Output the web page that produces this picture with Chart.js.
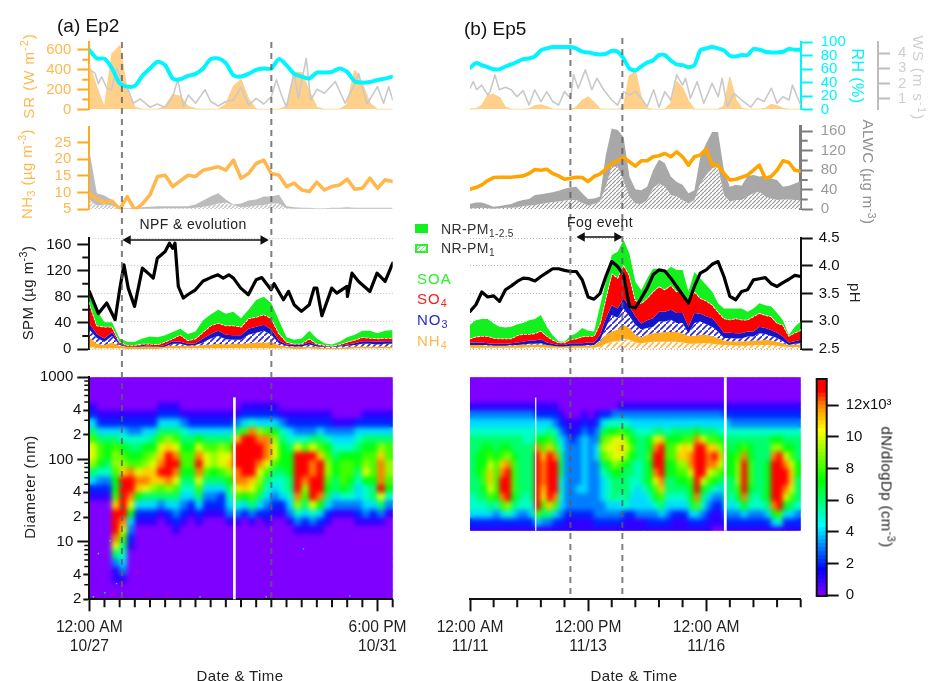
<!DOCTYPE html>
<html>
<head>
<meta charset="utf-8">
<title>Ep2 and Ep5</title>
<script src="https://cdn.jsdelivr.net/npm/chart.js@4"></script>
<style>
html, body { margin: 0; padding: 0; background: #fff; width: 932px; height: 681px; overflow: hidden; }
body { position: relative; font-family: "Liberation Sans", Arial, sans-serif; color: #222; }
canvas { position: absolute; left: 0; top: 0; }
.lab { position: absolute; white-space: nowrap; font-size: 15px; letter-spacing: .4px; line-height: 1; z-index: 5; }
.lab sup { font-size: .72em; vertical-align: .55em; line-height: 0; }
.lab sub { font-size: .72em; vertical-align: -.3em; line-height: 0; }
</style>
</head>
<body>
<script>
// hours since the start of each episode
const tA = [0,3,6,9,12,15,18,21,24,27,30,33,36,39,42,45,48,51,54,57,60,63,66,69,72,75,78,81,84,87,90,93,96,99,102,105,108,111,114,117,120]
const tB = [0,3,6,9,12,15,18,21,24,27,30,33,36,39,42,45,48,51,54,57,60,63,66,69,72,75,78,81,84,87,90,93,96,99,102,105,108,111,114,117,120,123,126,129,132,135,138,141,144,147,150,153,156,159,162,165,168]

// top strip
const srA = [450,220,10,560,640,190,20,0,0,0,30,150,130,30,5,0,0,0,50,230,300,100,0,0,0,0,30,370,370,180,20,0,0,0,50,390,260,60,0,0,0]
const rhA = [88.6,76,75.6,61,39,34,35,50,61,71,66,46,45,50,53,61,75,76,69,51,49,53,59,61,61,75,66,53,49,46,55,55,56,61,56,42,40,41,44,46,49]
const wsHoursA = [0,2.2,3.6,4.9,6.9,8.8,10.8,12.8,15.4,17.4,20.1,24,26.9,30,33,35,37.2,39.2,42,45.8,48,51,54,57,60,63,66,69,72,74,76,78,81,82.7,85.8,87.6,90,93,97.3,101.2,104.5,106.5,109.8,114,116.4,118.4,120]
const wsA = [2.9,2.7,2,2.45,1.7,1.6,3,2.25,1.6,.72,1,.46,.67,.46,1.15,2.25,.5,1.26,.72,1.6,.83,.54,.83,.93,1.76,.6,1.04,.67,1.15,2.25,1.26,.46,2.7,1.04,3.65,.93,1.63,1.37,2.13,.72,1.8,2.67,.67,1.8,.72,1.8,.93]
const srB = [5,5,40,140,150,120,20,0,0,0,5,35,45,25,0,0,0,0,20,90,125,70,5,0,0,0,20,340,380,120,10,0,0,0,60,280,215,80,0,0,0,0,0,30,320,100,10,0,0,0,10,50,35,10,0,0,0]
const rhB = [62,69,66,63,60,60,64,67,71,75,76,79,88,91,93,93,93,93,91,86,85,83,82,83,87,86,76,61,58,64,70,73,81,81,73,67,66,63,66,88,91,93,91,88,80,79,81,81,90,89,86,85,85,86,90,89,89]
const wsHoursB = [0,1.7,3.4,5.9,9,10.2,12.7,14.9,18,21,23.9,27,30,32.9,36,39,42,45,48,51.1,52.6,55,58.6,61.9,64.5,67.9,72,75,78,81,84,87,90,93.3,96,99,102,105,108,109.5,112,115.4,118.8,123,126.1,128.1,130.7,134.1,138,142.6,146,149.4,153.1,156,159,162.1,163.8,168]
const wsB = [1.7,2.13,1.6,1.9,1.26,1.48,2.57,1.6,1.76,1.6,1.15,1.54,.6,1.6,.83,1.48,.83,.6,1.48,1.04,2.57,1.7,2.9,1.6,2.35,1.6,.93,.6,1.48,1.26,1.48,1.04,.5,1.6,.46,1.48,.93,2.57,1.9,2.35,1.04,2.13,.72,2.02,1.15,2.35,.5,1.37,.93,.46,1.04,.83,1.7,.72,1.15,.93,1.9,.6]

// NH3 and ALWC strip
const nh3A = [9.8,8,7.1,7.5,5,8.8,4.8,6.6,9.3,14.8,15.2,11.8,13.5,15.2,14.8,16.7,17.2,17.7,16.7,19.7,14.3,15.7,18.7,19.7,15.7,15.2,11.8,12.8,10.8,10.3,13.1,10.8,11.8,12.3,14,11,11.3,14.3,11.3,13.8,13.3]
const alwcTopA = [121,33,28,19,3,2,3,4,5,6,6,6,6,6,10,18,26,33,20,10,12,18,20,26,26,30,6,4,3,3,2,2,3,3,4,3,3,3,3,3,3]
const alwcLowA = [20,8,10,8,1,1,1,1,1,1,2,2,2,2,3,5,8,12,14,9,4,5,8,9,12,12,2,1,1,1,1,1,1,1,1,1,1,1,1,1,1]
const nh3B = [11,11.5,12.3,13.6,14.5,14.6,14.6,14.6,14.8,15,15.7,16.9,16.7,17,15.7,15,14,14.3,14.6,14.5,13.3,14.8,15.5,17,18.7,19.5,20.5,19.2,17.9,19.5,19.5,20.7,21,21.7,20.7,22.2,20.7,18.2,20.7,21.2,23,18.2,18.2,15.7,13.8,14,14.6,15.2,16.7,18.2,14.3,14.8,16.7,19.5,19,16.7,16.4]
const alwcTopB = [11,14,14,10,5,7,9,11,16,19,21,29,31,33,35,38,42,45,46,33,21,22,26,111,165,162,148,67,41,39,46,80,102,94,67,56,50,33,39,107,135,158,158,80,46,50,48,68,70,67,69,63,60,46,48,53,58]
const alwcLowB = [2,2,3,2,1,2,3,3,4,7,8,9,11,13,15,16,18,19,19,13,8,11,16,46,87,87,60,26,12,11,19,43,53,46,29,26,19,12,19,53,70,84,87,29,16,19,19,26,33,36,26,22,19,20,20,19,19]

// SPM strip, cumulative tops of each species
const soaTopA = [93,59,41,41,16,11,11,16,19,18,21,26,31,23,27,44,53,60,54,57,47,60,75,80,70,44,18,14,16,28,16,9,7,11,18,22,28,28,24,28,29]
const so4TopA = [71,36,34,34,11,6,6,8,8,7,11,16,22,13,16,26,36,40,36,36,34,47,49,53,47,24,11,8,8,16,8,6,5,7,11,14,18,17,16,17,17]
const no3TopA = [39,23,16,26,8,4,4,6,5,4,6,12,11,8,9,16,23,28,22,21,21,31,34,37,30,13,7,6,6,10,6,4,4,5,7,9,12,12,11,12,12]
const no3LowA = [30,17,11,20,6,3,3,4,4,3,4,8,8,5,6,10,16,20,15,14,14,22,25,28,22,9,5,4,4,7,4,3,3,4,5,6,8,8,7,8,8]
const nh4TopA = [18,8,6,10,5,3,3,4,4,3,5,5,5,5,5,6,7,8,7,8,8,9,10,10,10,6,4,3,3,4,3,2,2,2,3,4,4,4,4,4,4]
const nh4LowA = [4,1,1,1,1,0,0,0,0,0,1,1,1,1,1,1,1,1,1,1,1,1,1,1,1,1,1,0,0,1,0,0,0,0,0,1,1,1,1,1,1]
const phHoursA = [0,3.6,6.9,10.2,12,13.7,15.4,17.9,21,24,25.3,26.9,30,31.7,33,33.9,35.2,37.2,38.9,42,45,48,50.9,53,55.2,57,59.9,62.9,66,68.2,71.9,73.1,76.8,78.8,81,83.9,87,88.9,90,92,95.9,97.9,101.9,102.1,103.9,106.5,111,113.8,117,120]
const phA = [3.54,3.14,3.33,3.03,3.57,4.02,3.6,3.27,3.96,3.84,3.78,4.14,4.26,4.41,4.32,4.41,3.63,3.42,3.48,3.57,3.73,3.79,3.84,3.78,3.84,3.78,3.6,3.48,3.75,3.79,3.57,3.68,3.39,3.54,3.3,3.18,3.3,3.6,3.6,3.1,3.6,3.51,3.63,3.45,3.87,3.72,3.54,3.87,3.72,4.05]

const soaTopB = [37,44,46,46,39,34,33,34,38,40,44,46,52,34,21,12,11,20,24,32,28,27,65,103,144,149,167,146,103,90,108,123,123,118,126,121,121,88,118,108,98,88,70,62,62,62,62,57,62,70,67,65,55,44,21,34,42]
const so4TopB = [16,19,20,20,17,16,16,16,21,23,23,24,28,20,14,10,10,15,16,19,20,20,39,78,116,109,129,113,75,70,78,88,96,91,98,88,88,73,88,78,74,68,57,47,45,47,45,45,50,55,52,50,40,37,20,25,29]
const no3TopB = [10,10,10,9,8,8,8,9,10,11,13,13,15,10,8,6,6,9,9,9,10,10,21,47,67,62,78,65,50,39,44,47,57,57,60,55,55,34,55,54,50,47,37,25,25,24,24,27,27,34,32,29,25,19,10,12,14]
const no3LowB = [6,6,6,6,5,5,5,6,6,7,8,8,9,6,5,4,4,5,5,5,6,6,13,33,52,48,62,50,37,30,32,34,42,42,45,40,40,24,40,42,38,34,27,17,17,16,16,19,19,24,23,20,17,12,6,8,9]
const nh4TopB = [6,6,6,5,5,5,5,5,6,6,7,7,7,6,5,4,4,5,5,5,5,6,11,22,27,30,37,32,22,18,22,24,25,26,26,26,24,20,20,22,22,20,17,13,12,12,12,12,13,13,14,13,11,9,6,7,7]
const nh4LowB = [2,2,2,2,2,2,2,2,2,2,3,3,3,2,2,2,2,2,2,2,2,2,4,8,11,12,16,14,10,9,10,11,11,11,11,11,10,8,8,9,9,8,7,6,6,5,5,5,6,6,6,6,5,4,3,3,3]
const phB = [3.18,3.3,3.53,3.44,3.46,3.36,3.57,3.64,3.72,3.78,3.77,3.73,3.81,3.88,3.95,3.95,3.92,3.9,3.9,3.75,3.44,3.4,3.5,3.81,4.08,3.99,3.84,3.27,3.24,3.42,3.6,3.84,3.93,3.91,3.78,3.63,3.48,3.33,3.63,3.87,3.93,4.03,4.08,3.81,3.45,3.39,3.54,3.57,3.75,3.77,3.79,3.68,3.63,3.7,3.76,3.83,3.81]

// size distribution. bin edges top to bottom, one string per time column,
// one hex digit per bin in units of 10^3 cm-3, missing digits mean 0
const diamA = [1000,800,630,500,400,320,250,200,160,126,100,80,63,50,40,32,25,20,16,12.6,10,8,6.3,5,4,3.2,2.5,2]
const diamB = [1000,800,630,500,400,320,250,200,160,126,100,80,63,50,40,32,25,20,16,14]
const heatA = [
  "00012 468aa 96421", "00001 24688 75321", "00001 24677 65321", "00001 24689 98778 bdddc a6311",
  "00001 24578 9bddd ddca8 65431", "00001 23567 8cddc a7432 1", "00001 23567 8acb7 421", "00001 24578 9bca6 421",
  "00001 24679 abb96 421", "00012 468ab cdb86 31", "00012 469bd ddc96 421", "00012 468ac dca86 4321",
  "00001 35678 87654 321", "00001 24678 87654 21", "00001 247ac dca86 421", "00001 2468a a8643 21",
  "00001 24689 97643 21", "00001 2469a a8642 21", "00001 2468a b9765 431", "00001 36bdd dcca8 531",
  "00012 48ddd ddcb7 42", "00012 5cddd ddba8 631", "00012 49cdd ca986 42", "00012 48ccc a8654 321",
  "00012 479aa 86543 21", "00001 35677 76554 21", "00001 24567 77665 431", "00001 235ad ddddc 9531",
  "00001 2358d ddc98 6421", "00001 236ad ccddd a531", "00001 2468b ddddc 7421", "00001 23578 99876 421",
  "00000 13456 77664 31", "00000 13457 88875 31", "00000 13457 88765 31", "00000 24567 76544 321",
  "00001 24678 9a755 431", "00001 24678 88766 421", "00001 2469b cccda 631", "00001 24688 99875 31"
]
const heatB = [
  "00013 45666 66665 5421", "00013 45667 77666 5421", "00013 45677 78876 5421", "00013 45678 abba8 6421",
  "00013 45667 88887 5321", "00013 45678 bcddc 8421", "00013 45679 cdddd 9521", "00013 45667 88887 6421",
  "00013 45666 66666 5321", "00013 45566 66665 5321", "00013 45566 66666 5421", "00012 457cd ddddd d841",
  "00012 4578b cccba 8631", "00012 468bd ddddd b631", "00012 3568c ddddc 8421", "00001 23456 66555 4321",
  "00000 12333 33333 3211", "00000 11233 33333 3211", "00000 12333 33343 3211", "00001 23444 44443 3211",
  "00000 12333 33333 3211", "00001 23344 33333 3321", "00002 46898 65444 3321", "00002 579a9 76555 4321",
  "00003 57aaa 97666 4321", "00013 58aba 87665 4321", "00013 579a9 76666 5211", "00013 46787 66554 4211",
  "00013 45666 55544 4311", "00013 45666 66654 4311", "00013 45778 77765 4321", "00013 46acd dca87 5321",
  "00013 46bdd ddcb8 6421", "00013 45788 77665 4321", "00013 46788 77665 4211", "00013 467ab 98765 4211",
  "00013 468bb 98765 4211", "00013 468ac ca877 6421", "00013 47cdd ddddc 8421", "00013 46add dda76 5321",
  "00013 468bc ca864 3211", "00013 468bd c9753 2110", "00013 4579b a8643 2110", "00012 45677 77666 5321",
  "00012 35667 77665 4321", "00012 35678 99987 5321", "00012 3568c ddddc 7421", "00012 35677 88876 5321",
  "00012 35666 66665 5321", "00012 35666 66666 5321", "00012 35666 77777 6421", "00012 3579c ddddd c741",
  "00012 3579d ddddd d851", "00012 3567a cddca 7421", "00012 35678 abba8 6421", "00012 35666 77666 5321"
]
const speckHours = [1.6,6.2,9.5,12.8,18.7,3.6,8.2,10.8,23,84.7,70,103,43.8,31]
const speckDiam = [2.15,2.4,2.3,2.4,4.3,7.2,10.3,3.1,2.3,8.2,2.15,2.2,2.15,2.2]
const speckValue = [8,7,13,4,13,8,7,4,13,4,7,4,7,13]
const colourLevels = [0,.25,.5,.75,1,1.25,1.5,1.75,2,2.25,2.5,2.75,3,3.25,3.5,3.75,4,4.25,4.5,4.75,5,5.25,5.5,5.75,6,6.25,6.5,6.75,7,7.25,7.5,7.75,8,8.25,8.5,8.75,9,9.25,9.5,9.75,10,10.25,10.5,10.75,11,11.25,11.5,11.75,12,12.25,12.5,12.75,13,13.25,13.5]

// instrument gaps and event times, hours
const gapsA = [57.4]
const gapsB = [33.4, 129.7]
const eventsA = [12.9, 72]
const eventsB = [51, 77.4]
const arrowA = [15.3, 68.8]
const arrowB = [56.9, 74.7]

// tick values
const srTicks = [0,200,400,600], srMinor = [100,300,500]
const rhTicks = [0,20,40,60,80,100]
const wsTicks = [1,2,3,4]
const nh3Ticks = [5,10,15,20,25]
const alwcTicks = [0,40,80,120,160], alwcMinor = [20,60,100,140]
const spmTicks = [0,40,80,120,160], spmMinor = [20,60,100,140]
const phTicks = [2.5,3,3.5,4,4.5]
const diamTicks = [10,100,1000], diamSubTicks = [2,4,20,40,200,400]
const diamMinor = [3,5,6,7,8,9,30,50,60,70,80,90,300,500,600,700,800,900]
const colourTicks = [0,2,4,6,8,10,12]
const timeTicksA = [0,114], timeLabelsA = [['12:00 AM','10/27'],['6:00 PM','10/31']]
const timeMinorA = [6,12,18,24,30,36,42,48,54,60,66,72,78,84,90,96,102,108,120]
const timeTicksB = [0,60,120], timeLabelsB = [['12:00 AM','11/11'],['12:00 PM','11/13'],['12:00 AM','11/16']]
const timeMinorB = [12,24,36,48,72,84,96,108,132,144,156,168]

Chart.defaults.font.family = '"Liberation Sans", Arial, sans-serif'
Chart.defaults.font.size = 15
Chart.defaults.color = '#222'
Chart.defaults.animation = false

const W = 932, H = 681
const xA = {l: 89.3, r: 392.7}, xB = {l: 470, r: 800.7}
const row1 = {t: 42.3, b: 109.5}, row2 = {t: 126.7, b: 209.3}, row3 = {t: 238.3, b: 349}, heatRow = {t: 377.3, b: 599.3}

const colourStops = [[0,127,0,255],[1.6,0,0,255],[4.4,0,255,255],[7.2,0,255,0],[10.4,255,255,0],[12,255,128,0],[12.9,255,0,0]]
function colourAt(v) {
    if (v >= 12.9) return 'rgb(255,0,0)'
    for (let i = 1; i < colourStops.length; i++) {
        if (v <= colourStops[i][0]) {
            const a = colourStops[i-1], b = colourStops[i]
            const f = (v - a[0]) / (b[0] - a[0])
            return `rgb(${[1,2,3].map(k => Math.round(a[k] + (b[k]-a[k])*f)).join(',')})`
        }
    }
}

function hatch(colour, lineWidth, size) {
    const c = document.createElement('canvas')
    c.width = c.height = size
    const x = c.getContext('2d')
    x.fillStyle = '#fff'
    x.fillRect(0, 0, size, size)
    x.strokeStyle = colour
    x.lineWidth = lineWidth
    x.beginPath()
    x.moveTo(0, size); x.lineTo(size, 0)
    x.stroke()
    return x.createPattern(c, 'repeat')
}

function minorTicks(list) {
    return {
        id: 'minorTicks',
        afterDraw(chart) {
            const ctx = chart.ctx, area = chart.chartArea
            list.forEach(m => {
                const s = chart.scales[m.axis]
                ctx.save()
                ctx.strokeStyle = m.color
                ctx.lineWidth = m.width || 2
                ctx.beginPath()
                m.values.forEach(v => {
                    const p = s.getPixelForValue(v)
                    if (s.isHorizontal()) {
                        ctx.moveTo(p, area.bottom); ctx.lineTo(p, area.bottom + m.len)
                    } else if (s.position === 'left') {
                        ctx.moveTo(area.left, p); ctx.lineTo(area.left - m.len, p)
                    } else {
                        ctx.moveTo(area.right, p); ctx.lineTo(area.right + m.len, p)
                    }
                })
                ctx.stroke()
                ctx.restore()
            })
        }
    }
}

// smooths the heat cells, the crisp ones stay underneath at the edges
const blurCells = {
    id: 'blurCells',
    afterDatasetsDraw(chart) {
        const ctx = chart.ctx, a = chart.chartArea
        ctx.save()
        ctx.beginPath()
        ctx.rect(a.left, a.top, a.right - a.left, a.bottom - a.top)
        ctx.clip()
        ctx.filter = 'blur(2.4px)'
        ctx.drawImage(chart.canvas, 0, 0)
        ctx.restore()
    }
}

const frameBox = {
    id: 'frameBox',
    afterDraw(chart) {
        const ctx = chart.ctx, a = chart.chartArea
        ctx.save()
        ctx.strokeStyle = '#111'
        ctx.lineWidth = 2
        ctx.strokeRect(a.left, a.top, a.right - a.left, a.bottom - a.top)
        ctx.restore()
    }
}

// chart area is pinned by padding, less the fixed box every shown axis takes
function addChart(xr, yr, datasets, scales, plugins, type) {
    const c = document.createElement('canvas')
    c.width = W
    c.height = H
    document.body.appendChild(c)
    const pad = {left: xr.l, right: W - xr.r, top: yr.t, bottom: H - yr.b}
    Object.values(scales).forEach(s => {
        if (s.display === false) return
        if (s.boxWidth) pad[s.position] -= s.boxWidth
        if (s.boxHeight) pad[s.position] -= s.boxHeight
    })
    return new Chart(c.getContext('2d'), {
        type: type || 'line',
        data: type === 'bar' ? {labels: datasets.labels, datasets: datasets.sets} : {datasets: datasets},
        options: {
            responsive: false,
            animation: false,
            events: [],
            layout: {padding: pad},
            plugins: {legend: {display: false}, tooltip: {enabled: false}},
            scales: scales
        },
        plugins: plugins || []
    })
}

function hiddenX(max) {
    return {type: 'linear', min: 0, max: max, display: false}
}

function valueAxis(o) {
    const box = (o.noLabels || o.hidden) ? 0 : (o.box || (o.pos === 'right' ? 100 : 80))
    return {
        type: o.type || 'linear',
        position: o.pos || 'left',
        min: o.min,
        max: o.max,
        display: o.hidden ? false : true,
        boxWidth: box,
        afterBuildTicks: s => { s.ticks = (o.ticks || []).map(v => ({value: v})) },
        afterFit: s => { s.width = box },
        border: {display: !o.noLine, color: o.color, width: o.lineWidth || 2, dash: o.gridDash},
        grid: {
            drawOnChartArea: !!o.gridColor,
            color: o.gridColor,
            lineWidth: 1,
            drawTicks: !o.noTicks,
            tickColor: o.color,
            tickWidth: 2,
            tickLength: o.len === undefined ? 12 : o.len
        },
        ticks: {
            display: !o.noLabels,
            color: o.text || o.color,
            padding: o.pad === undefined ? 6 : o.pad,
            autoSkip: false,
            maxRotation: 0,
            callback: o.label || (v => String(v))
        }
    }
}

function timeAxis(max, ticks, labels) {
    return {
        type: 'linear',
        position: 'bottom',
        min: 0,
        max: max,
        boxHeight: 70,
        afterBuildTicks: s => { s.ticks = ticks.map(v => ({value: v})) },
        afterFit: s => { s.height = 70 },
        border: {color: '#111', width: 2},
        grid: {drawOnChartArea: false, tickColor: '#111', tickWidth: 2, tickLength: 12},
        ticks: {
            color: '#222',
            padding: 7,
            autoSkip: false,
            maxRotation: 0,
            font: {size: 15.6, lineHeight: 1.2},
            callback: (v, i) => labels[i]
        }
    }
}

function series(hours, vals, axis, o) {
    return Object.assign({
        data: hours.map((h, i) => ({x: h, y: vals[i]})),
        yAxisID: axis,
        pointRadius: 0,
        tension: 0,
        borderWidth: 0,
        fill: false,
        borderJoinStyle: 'round',
        borderCapStyle: 'round'
    }, o)
}

function heatSets(columns, edges) {
    const cols = columns.map(c => c.replace(/ /g, ''))
    const sets = edges.slice(0, -1).map((hi, r) => ({
        data: cols.map(() => [edges[r+1], hi]),
        backgroundColor: ctx => colourAt(parseInt((cols[ctx.dataIndex] || '').charAt(r), 16) || 0),
        grouped: false,
        barPercentage: 1,
        categoryPercentage: 1,
        borderWidth: 0
    }))
    return {labels: cols.map((c, i) => i), sets: sets}
}

function heatScales(min) {
    return {
        x: {type: 'category', display: false},
        y: {type: 'logarithmic', min: min, max: 1000, display: false}
    }
}

function topStrip(xr, max, t, sr, rh, wsH, ws, showLeft, showRight) {
    addChart(xr, row1, [
        series(t, rh, 'rh', {borderColor: '#00f6ff', borderWidth: 4, tension: .25}),
        series(wsH, ws, 'ws', {borderColor: '#c9c9c9', borderWidth: 1.6}),
        series(t, sr, 'sr', {borderColor: '#ffd08a', backgroundColor: '#ffd08a', borderWidth: 1.5, fill: 'origin'})
    ], {
        x: hiddenX(max),
        sr: valueAxis({min: 0, max: 677, ticks: srTicks, color: '#ffa91f', text: '#ffb84d', hidden: !showLeft}),
        rh: valueAxis({pos: 'right', min: 0, max: 100, ticks: rhTicks, color: '#00f6ff', hidden: !showRight, pad: 8}),
        ws: valueAxis({pos: 'right', min: .31, max: 4.7, ticks: [], color: '#bbb', hidden: true})
    }, showLeft ? [minorTicks([{axis: 'sr', values: srMinor, len: 7, color: '#ffa91f'}])] : [])
}

function alwcStrip(xr, max, t, nh3, top, low, o) {
    addChart(xr, row2, [
        series(t, nh3, 'nh3', {borderColor: o.nh3Colour, borderWidth: 3.6}),
        series(t, top, 'alwc', {backgroundColor: o.grey, fill: '+1'}),
        series(t, low, 'alwc', {backgroundColor: o.pattern, fill: 'origin'})
    ], {
        x: hiddenX(max),
        nh3: valueAxis({min: 5, max: 29.7, ticks: nh3Ticks, color: '#ffa91f', text: '#ffb84d', hidden: !o.left}),
        alwc: valueAxis({pos: 'right', min: 0, max: 168.9, ticks: alwcTicks, color: '#7d7d7d', text: '#9a9a9a', lineWidth: 3, hidden: !o.right, pad: 8})
    }, o.right ? [minorTicks([{axis: 'alwc', values: alwcMinor, len: 7, color: '#7d7d7d'}])] : [])
}

function spmStrip(xr, max, t, phH, ph, s, arrow, arrowY, left) {
    const plain = {borderWidth: 1.5, borderDash: [2, 2], borderColor: '#fff'}
    addChart(xr, row3, [
        {
            data: [{x: arrow[0], y: arrowY}, {x: arrow[1], y: arrowY}],
            yAxisID: 'spm',
            clip: false,
            borderColor: '#111',
            backgroundColor: '#111',
            borderWidth: 1.5,
            tension: 0,
            pointStyle: 'triangle',
            pointRadius: 4,
            pointRotation: [270, 90],
            fill: false
        },
        series(phH, ph, 'ph', {borderColor: '#000', borderWidth: 3.2}),
        series(t, s[0], 'spm', {backgroundColor: '#14f01e', fill: '+1'}),
        series(t, s[1], 'spm', Object.assign({backgroundColor: '#ff0000', fill: '+1'}, plain)),
        series(t, s[2], 'spm', {backgroundColor: '#1414c8', fill: '+1'}),
        series(t, s[3], 'spm', {backgroundColor: hatch('#2a2ad0', 1.6, 6), fill: '+1'}),
        series(t, s[4], 'spm', {backgroundColor: '#ffab1a', fill: '+1'}),
        series(t, s[5], 'spm', {backgroundColor: hatch('#ffb84d', 1.6, 6), fill: 'origin'})
    ], {
        x: hiddenX(max),
        spm: valueAxis({min: 0, max: 169.6, ticks: spmTicks, color: '#111', hidden: !left}),
        ph: valueAxis({
            pos: 'right', min: 2.5, max: 4.5, ticks: phTicks, color: '#111',
            gridColor: '#bdbdbd', gridDash: [1, 2],
            noLine: left, noLabels: left, noTicks: left, len: left ? 0 : 12,
            label: v => v.toFixed(1)
        })
    }, left ? [minorTicks([{axis: 'spm', values: spmMinor, len: 7, color: '#111'}])] : [])
}

function gapLines(gaps, lowD, widths) {
    return gaps.map((g, i) => series([g, g], [lowD[i], widths.top[i]], 'y', {
        borderColor: '#fff', borderWidth: widths.w[i], borderCapStyle: 'butt', clip: false
    }))
}

function guideSets(events) {
    return events.map(e => series([e, e], [0, 1], 'y', {
        borderColor: 'rgba(95,95,95,.8)', borderWidth: 2, borderDash: [6, 5], borderCapStyle: 'butt'
    }))
}

// panel a
topStrip(xA, 120, tA, srA, rhA, wsHoursA, wsA, true, false)
alwcStrip(xA, 120, tA, nh3A, alwcTopA, alwcLowA, {
    nh3Colour: '#ffb84d', grey: '#bcbcbc', pattern: hatch('#c4c4c4', 1.4, 4), left: true, right: false
})
spmStrip(xA, 120, tA, phHoursA, phA, [soaTopA, so4TopA, no3TopA, no3LowA, nh4TopA, nh4LowA], arrowA, 167, true)
addChart(xA, heatRow, heatSets(heatA, diamA), heatScales(2), [blurCells], 'bar')
addChart(xA, heatRow, [
    ...gapLines(gapsA, [2], {top: [570], w: [2.6]}),
    {
        type: 'scatter',
        data: speckHours.map((h, i) => ({x: h, y: speckDiam[i]})),
        yAxisID: 'y',
        pointStyle: 'rect',
        pointRadius: 1,
        borderWidth: 0,
        backgroundColor: speckValue.map(colourAt)
    }
], {
    x: timeAxis(120, timeTicksA, timeLabelsA),
    y: valueAxis({type: 'logarithmic', min: 2, max: 1000, ticks: diamTicks, color: '#111', pad: 4})
}, [minorTicks([
    {axis: 'x', values: timeMinorA, len: 8, color: '#111'},
    {axis: 'y', values: diamMinor, len: 5, color: '#111', width: 1.5}
])])
addChart(xA, heatRow, [], {
    x: hiddenX(120),
    y: valueAxis({type: 'logarithmic', min: 2, max: 1000, ticks: diamSubTicks, color: '#111', len: 6, pad: 2,
        label: v => String(v).charAt(0)})
})
addChart(xA, {t: 41, b: 598}, guideSets(eventsA), {
    x: hiddenX(120), y: {type: 'linear', min: 0, max: 1, display: false}
})

// panel b
topStrip(xB, 168, tB, srB, rhB, wsHoursB, wsB, false, true)
alwcStrip(xB, 168, tB, nh3B, alwcTopB, alwcLowB, {
    nh3Colour: '#ffa500', grey: '#a8a8a8', pattern: hatch('#9a9a9a', 1.2, 4), left: false, right: true
})
spmStrip(xB, 168, tB, tB, phB, [soaTopB, so4TopB, no3TopB, no3LowB, nh4TopB, nh4LowB], arrowB, 171.6, false)
addChart(xB, {t: 377.3, b: 530.7}, heatSets(heatB, diamB), heatScales(14), [blurCells], 'bar')
addChart(xB, {t: 377.3, b: 530.7}, gapLines(gapsB, [14, 14], {top: [570, 1000], w: [1.2, 2.8]}), {
    x: hiddenX(168),
    y: {type: 'logarithmic', min: 14, max: 1000, display: false}
})
addChart(xB, heatRow, [], {
    x: timeAxis(168, timeTicksB, timeLabelsB),
    y: {type: 'linear', min: 0, max: 1, display: false}
}, [minorTicks([{axis: 'x', values: timeMinorB, len: 8, color: '#111'}])])
addChart(xB, {t: 37, b: 594}, guideSets(eventsB), {
    x: hiddenX(168), y: {type: 'linear', min: 0, max: 1, display: false}
})

// wind speed axis stands on its own, further right
addChart({l: 800.7, r: 878}, row1, [], {
    x: hiddenX(1),
    y: valueAxis({pos: 'right', min: .31, max: 4.7, ticks: wsTicks, color: '#bdbdbd', text: '#cfcfcf', pad: 8, box: 50})
})

// colour bar
addChart({l: 816.7, r: 826.7}, {t: 379, b: 596}, {
    labels: ['c'],
    sets: colourLevels.map(v => ({
        data: [[v, v + .26]],
        yAxisID: 'y',
        backgroundColor: colourAt(v + .125),
        grouped: false,
        barPercentage: 1,
        categoryPercentage: 1,
        borderWidth: 0
    }))
}, {
    x: {type: 'category', display: false},
    y: valueAxis({pos: 'right', min: -.06, max: 13.65, ticks: colourTicks, color: '#111', noLine: true, pad: 7,
        label: v => v === 12 ? '12x10\u00b3' : String(v)})
}, [frameBox], 'bar')

// text that needs sub and superscripts or rotation
function lab(html, x, y, o) {
    o = o || {}
    const d = document.createElement('div')
    d.className = 'lab'
    d.innerHTML = html
    d.style.left = x + 'px'
    d.style.top = y + 'px'
    d.style.color = o.color || '#222'
    if (o.size) d.style.fontSize = o.size + 'px'
    if (o.spacing !== undefined) d.style.letterSpacing = o.spacing + 'px'
    const shift = o.start ? 'translate(0,-50%)' : 'translate(-50%,-50%)'
    d.style.transform = shift + (o.rot ? ` rotate(${o.rot}deg)` : '')
    document.body.appendChild(d)
}

lab('(a) Ep2', 57, 25, {start: true, size: 19, spacing: 0, color: '#111'})
lab('(b) Ep5', 464, 28, {start: true, size: 19, spacing: 0, color: '#111'})
lab('SR (W m<sup>-2</sup>)', 28, 76, {rot: -90, color: '#ffb84d', spacing: 1})
lab('NH<sub>3</sub> (&micro;g m<sup>-3</sup>)', 26, 174, {rot: -90, color: '#ffb84d'})
lab('SPM (&micro;g m<sup>-3</sup>)', 27, 293, {rot: -90})
lab('Diameter (nm)', 29, 487, {rot: -90, spacing: .6})
lab('RH (%)', 857, 76, {rot: 90, color: '#00f6ff', size: 16})
lab('WS (m s<sup>-1</sup>)', 918, 78, {rot: 90, color: '#cfcfcf', spacing: 1.3})
lab('ALWC (&micro;g m<sup>-3</sup>)', 868, 172, {rot: 90, color: '#8f8f8f'})
lab('pH', 855, 293, {rot: 90})
lab('dN/dlogDp (cm<sup>-3</sup>)', 887, 487, {rot: 90})
lab('Date &amp; Time', 240, 675)
lab('Date &amp; Time', 634, 675)
lab('NPF &amp; evolution', 193, 224, {size: 14})
lab('Fog event', 600, 222, {size: 14})
lab('SOA', 417, 278, {start: true, color: '#2cf02c', spacing: 1})
lab('SO<sub>4</sub>', 417, 298, {start: true, color: '#ff1a1a', spacing: 1})
lab('NO<sub>3</sub>', 417, 319, {start: true, color: '#2a2ad0', spacing: 1})
lab('NH<sub>4</sub>', 417, 340, {start: true, color: '#ffb84d', spacing: 1})
lab('NR-PM<sub>1-2.5</sub>', 441, 229, {start: true, size: 14, color: '#333'})
lab('NR-PM<sub>1</sub>', 441, 248, {start: true, size: 14, color: '#333'})

function legendBox(top, css) {
    const d = document.createElement('div')
    d.style.cssText = `position:absolute;left:415px;top:${top}px;width:13px;height:9px;box-sizing:border-box;z-index:5;${css}`
    document.body.appendChild(d)
}
legendBox(224, 'background:#14f01e')
legendBox(244, 'border:2px solid #2cf02c;background:repeating-linear-gradient(135deg,#fff 0 2px,#8fe08f 2px 3px)')
</script>
</body>
</html>
